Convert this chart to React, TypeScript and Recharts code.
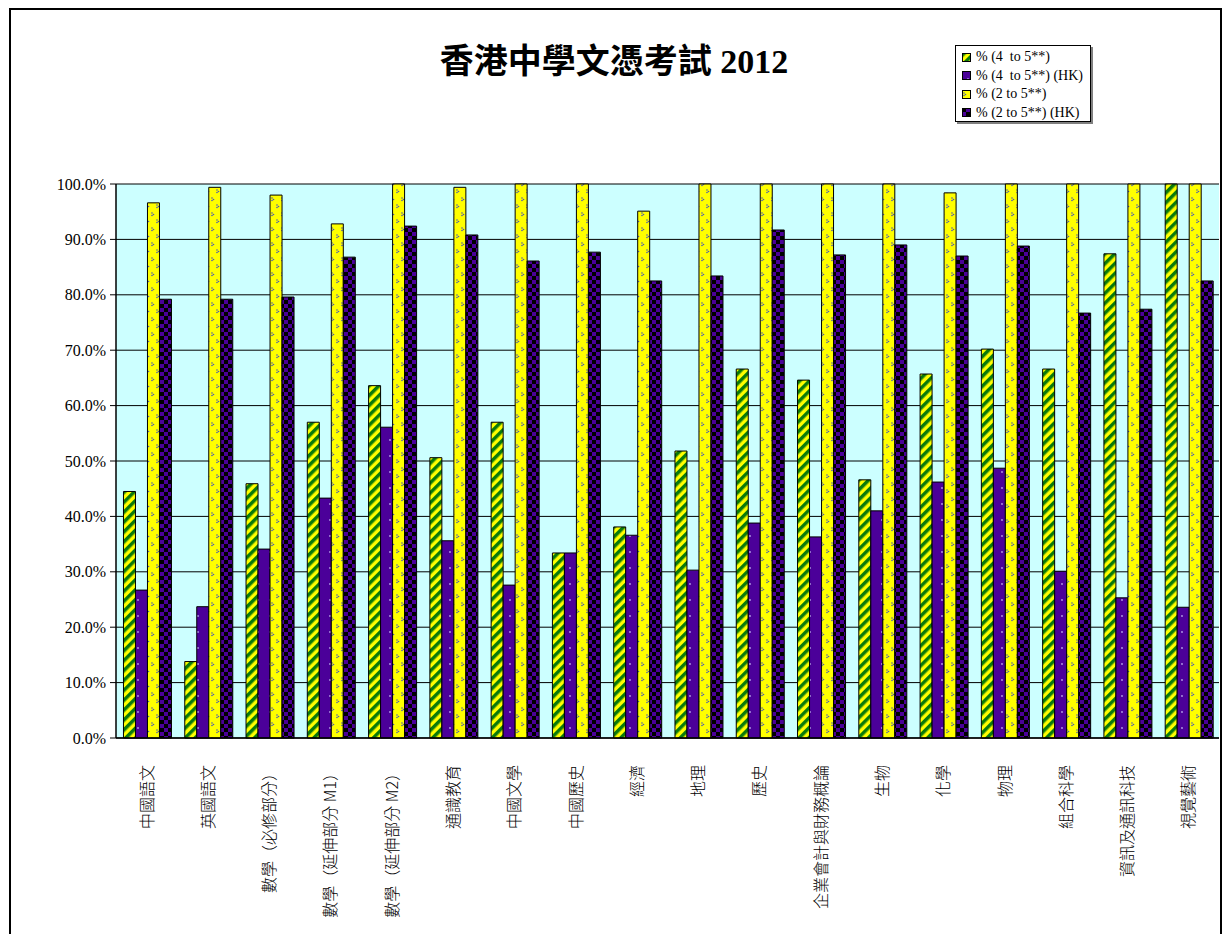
import React from 'react';
import { BarChart, Bar, XAxis, YAxis, CartesianGrid, Legend } from 'recharts';

const subjects = [
  '中國語文',
  '英國語文',
  '數學（必修部分）',
  '數學（延伸部分 M1）',
  '數學（延伸部分 M2）',
  '通識教育',
  '中國文學',
  '中國歷史',
  '經濟',
  '地理',
  '歷史',
  '企業會計與財務概論',
  '生物',
  '化學',
  '物理',
  '組合科學',
  '資訊及通訊科技',
  '視覺藝術',
];

const pass4to5 = [44.5, 13.8, 45.9, 57.0, 63.6, 50.6, 57.0, 33.4, 38.1, 51.8, 66.6, 64.6, 46.6, 65.7, 70.2, 66.6, 87.4, 100];
const pass4to5HK = [26.7, 23.7, 34.1, 43.3, 56.1, 35.6, 27.6, 33.4, 36.6, 30.3, 38.8, 36.3, 41.0, 46.2, 48.7, 30.1, 25.3, 23.6];
const pass2to5 = [96.6, 99.4, 98.0, 92.8, 100, 99.4, 100, 100, 95.1, 100, 100, 100, 100, 98.4, 100, 100, 100, 100];
const pass2to5HK = [79.2, 79.2, 79.6, 86.8, 92.4, 90.8, 86.1, 87.7, 82.5, 83.4, 91.7, 87.2, 89.0, 87.0, 88.8, 76.7, 77.4, 82.5];

const seriesNames = ['% (4  to 5**)', '% (4  to 5**) (HK)', '% (2 to 5**)', '% (2 to 5**) (HK)'];
const seriesKeys = ['p45', 'p45hk', 'p25', 'p25hk'];
const patternIds = ['patStripe', 'patPurple', 'patYellow', 'patChecker'];
const yTicks = [0, 10, 20, 30, 40, 50, 60, 70, 80, 90, 100];
const boundaryTicks = subjects.map((_, i) => i).concat([subjects.length]);

const data = subjects.map((subject, i) => ({
  subject,
  p45: pass4to5[i],
  p45hk: pass4to5HK[i],
  p25: pass2to5[i],
  p25hk: pass2to5HK[i],
}));

const serif = '"Liberation Serif", "Times New Roman", serif';
const cjk = '"Noto Sans CJK TC", "Noto Sans CJK SC", sans-serif';

function SubjectTick({ x, y, payload }: any) {
  return (
    <text
      transform={`translate(${x + 6},${y}) rotate(-90)`}
      textAnchor="end"
      fontSize={16}
      fontFamily={cjk}
      fontWeight={300}
      fill="#000"
    >
      {payload.value}
    </text>
  );
}

function LegendBox() {
  return (
    <div
      style={{
        width: 136,
        height: 77,
        border: '1px solid #000',
        background: '#fff',
        boxShadow: '2px 2px 0 #808080',
        padding: '2px 0 0 6px',
        boxSizing: 'border-box',
      }}
    >
      {seriesNames.map((name, i) => (
        <div
          key={name}
          style={{
            display: 'flex',
            alignItems: 'center',
            height: 18.5,
            fontFamily: serif,
            fontSize: 14,
            color: '#000',
          }}
        >
          <svg width={9} height={9} style={{ flex: 'none' }}>
            <rect x={0.5} y={0.5} width={8} height={8} fill={`url(#${patternIds[i]})`} stroke="#000" />
          </svg>
          <span style={{ marginLeft: 5, whiteSpace: 'pre' }}>{name}</span>
        </div>
      ))}
    </div>
  );
}

export default function App() {
  return (
    <div style={{ position: 'absolute', left: 0, top: 0, width: 1225, height: 934, background: '#fff', overflow: 'hidden' }}>
      <div
        style={{
          position: 'absolute',
          left: 9,
          top: 8,
          width: 1213,
          height: 950,
          borderTop: '2px solid #000',
          borderLeft: '2px solid #000',
          borderRight: '2px solid #000',
          boxSizing: 'border-box',
        }}
      />
      <div
        style={{
          position: 'absolute',
          left: 0,
          top: 40,
          width: 1228,
          textAlign: 'center',
          fontFamily: '"Liberation Serif", "Noto Sans CJK TC", serif',
          fontWeight: 'bold',
          fontSize: 34,
          lineHeight: '44px',
          color: '#000',
          zIndex: 2,
        }}
      >
        香港中學文憑考試 2012
      </div>
      <BarChart
        width={1225}
        height={934}
        data={data}
        margin={{ top: 184, right: 6, left: 16, bottom: 16 }}
        barCategoryGap="12.2%"
        barGap={0}
      >
        <defs>
          <pattern id="patStripe" patternUnits="userSpaceOnUse" width={7} height={7} patternTransform="rotate(45)">
            <rect width={7} height={7} fill="#FFFF00" />
            <rect width={3.5} height={7} fill="#0A7A0A" />
          </pattern>
          <pattern id="patPurple" patternUnits="userSpaceOnUse" width={12} height={16}>
            <rect width={12} height={16} fill="#4B0099" />
            <circle cx={6} cy={8} r={0.9} fill="#B4A0E8" />
          </pattern>
          <pattern id="patYellow" patternUnits="userSpaceOnUse" width={10} height={15}>
            <rect width={10} height={15} fill="#FFFF00" />
            <circle cx={2} cy={3} r={0.8} fill="#4A5AB0" />
            <circle cx={3.5} cy={4.5} r={0.8} fill="#4A5AB0" />
            <circle cx={2} cy={5.5} r={0.8} fill="#4A5AB0" />
            <circle cx={7} cy={10} r={0.8} fill="#4A5AB0" />
            <circle cx={8.5} cy={11.5} r={0.8} fill="#4A5AB0" />
            <circle cx={7} cy={12.5} r={0.8} fill="#4A5AB0" />
          </pattern>
          <pattern id="patChecker" patternUnits="userSpaceOnUse" width={8} height={8}>
            <rect width={8} height={8} fill="#4B0099" />
            <rect width={4} height={4} fill="#000" />
            <rect x={4} y={4} width={4} height={4} fill="#000" />
          </pattern>
        </defs>
        <CartesianGrid vertical={false} stroke="#000" fill="#CCFFFF" />
        <XAxis
          xAxisId="edges"
          type="number"
          domain={[0, subjects.length]}
          ticks={boundaryTicks}
          mirror
          height={0}
          axisLine={false}
          tickSize={5}
          tickLine={{ stroke: '#000' }}
          tickFormatter={() => ''}
        />
        <XAxis
          dataKey="subject"
          interval={0}
          height={180}
          axisLine={{ stroke: '#000', strokeWidth: 1.5 }}
          tickLine={false}
          tickSize={0}
          tickMargin={27}
          tick={<SubjectTick />}
        />
        <YAxis
          width={100}
          domain={[0, 100]}
          ticks={yTicks}
          interval={0}
          axisLine={{ stroke: '#000', strokeWidth: 1.5 }}
          tickLine={{ stroke: '#000' }}
          tickSize={6}
          tickMargin={4}
          tick={{ fill: '#000', fontSize: 16, fontFamily: serif }}
          tickFormatter={(v: number) => `${v.toFixed(1)}%`}
        />
        <Legend
          verticalAlign="middle"
          layout="horizontal"
          content={<LegendBox />}
          wrapperStyle={{ left: 955, top: 45, width: 140 }}
        />
        {seriesKeys.map((key, i) => (
          <Bar
            key={key}
            dataKey={key}
            name={seriesNames[i]}
            fill={`url(#${patternIds[i]})`}
            stroke="#000"
            strokeWidth={1}
            isAnimationActive={false}
          />
        ))}
      </BarChart>
    </div>
  );
}
